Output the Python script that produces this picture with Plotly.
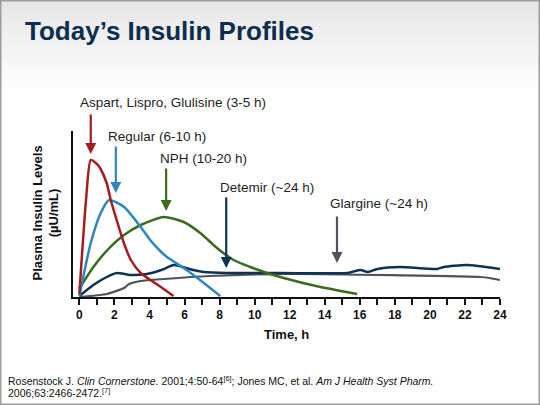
import plotly.graph_objects as go

# ---------------- data ----------------
hours_aspart = [0, 0.38, 0.65, 1.0, 1.18, 1.56, 1.79, 2.56, 2.94, 3.5, 4.65, 5.37]
aspart = [3, 97, 137, 133, 129, 114, 97, 53, 37, 24, 10, 1]

hours_regular = [0, 0.65, 1.22, 1.7, 2.55, 3.5, 4.04, 4.61, 5.0, 6.2, 7.1, 8.04]
regular = [1, 54, 84, 97, 90, 70, 57, 46, 40, 26, 14, 1]

hours_nph = [0, 0.8, 1.6, 2.55, 3.5, 4.8, 5.95, 6.9, 7.85, 8.8, 9.75, 10.7, 11.66, 13.5, 15.85]
nph = [8.5, 30, 47, 62, 72, 80, 75, 64, 49, 37, 30, 24, 19, 11, 3]

hours_detemir = [0, 0.8, 1.56, 2.14, 2.9, 3.85, 4.84, 5.37, 6.5, 7.1, 8.42, 11.5, 15.28,
                 16.04, 16.46, 17.0, 18.3, 20.4, 20.8, 22.1, 24]
detemir = [1, 12, 20, 24, 22, 23, 28, 32, 27, 25, 24, 24, 24, 27, 25, 28, 30, 28, 30, 32, 28]

hours_glargine = [0, 1.56, 2.55, 2.84, 3.5, 4.84, 7.47, 12, 22.9, 23.4, 24]
glargine = [0, 3, 9, 13, 16, 18, 21, 23, 20, 19, 17]

label_texts = ["Aspart, Lispro, Glulisine (3-5 h)", "Regular (6-10 h)",
               "NPH (10-20 h)", "Detemir (~24 h)", "Glargine (~24 h)"]
label_x = [-0.06, 1.53, 4.5, 7.9, 14.2]
label_y = [194, 161, 139, 110, 94]

arrow_x = [0.65, 2.08, 4.95, 8.38, 14.7]
arrow_tip = [143, 104, 86, 29, 34]
arrow_tail = [184, 152, 130, 101, 82]

x_ticks = list(range(0, 25))
x_ticktext = [str(h) if h % 2 == 0 else "" for h in x_ticks]

title_text = "Today\u2019s Insulin Profiles"
y_title = "Plasma Insulin Levels<br>(\u00b5U/mL)"
x_title = "Time, h"
ref_line1 = ("Rosenstock J. <i>Clin Cornerstone.</i> 2001;4:50-64<sup>[6]</sup>; "
             "Jones MC, et al. <i>Am J Health Syst Pharm.</i>")
ref_line2 = "2006;63:2466-2472.<sup>[7]</sup>"

# ---------------- styling ----------------
W, H = 540, 405
ML, MR, MT, MB = 73, 40, 131, 108
PW, PH = W - ML - MR, H - MT - MB
YMAX = 166
XMIN, XMAX = -0.363, 24.0

RED, BLUE, GREEN, NAVY, GRAY = "#a31d1f", "#2b86c2", "#3b6b1d", "#0f3253", "#4d545b"
colors = [RED, BLUE, GREEN, NAVY, GRAY]
FONT = "Liberation Sans, Arial, sans-serif"


def px_x(p):
    return (p - ML) / PW


def px_y(p):
    return (H - MB - p) / PH


fig = go.Figure()

series = [
    (hours_glargine, glargine, GRAY, 2.2),
    (hours_detemir, detemir, NAVY, 2.5),
    (hours_nph, nph, GREEN, 2.5),
    (hours_regular, regular, BLUE, 2.5),
    (hours_aspart, aspart, RED, 2.5),
]
for xs, ys, c, w in series:
    fig.add_trace(go.Scatter(x=xs, y=ys, mode="lines",
                             line=dict(color=c, width=w, shape="spline", smoothing=0.6),
                             showlegend=False, hoverinfo="skip"))

annotations = []
for t, lx, ly in zip(label_texts, label_x, label_y):
    annotations.append(dict(text=t, x=lx, y=ly / YMAX, xref="x", yref="paper",
                            xanchor="left", yanchor="middle", showarrow=False,
                            font=dict(family=FONT, size=13.5, color="#1e1e1e")))
for ax_, tip, tail, c in zip(arrow_x, arrow_tip, arrow_tail, colors):
    annotations.append(dict(text="", x=ax_, y=tip / YMAX, xref="x", yref="paper",
                            showarrow=True, arrowhead=2, arrowsize=1, arrowwidth=2.2,
                            arrowcolor=c, ax=0, ay=-(tail - tip) * PH / YMAX,
                            axref="pixel", ayref="pixel"))

annotations += [
    dict(text="<b>" + title_text + "</b>", x=px_x(23), y=px_y(31), xref="paper", yref="paper",
         xanchor="left", yanchor="middle", showarrow=False,
         font=dict(family=FONT, size=26, color="#0c2e4e")),
    dict(text="<b>" + y_title + "</b>", x=px_x(45.5), y=px_y(213), xref="paper", yref="paper",
         xanchor="center", yanchor="middle", showarrow=False, textangle=-90,
         font=dict(family=FONT, size=13, color="#111111")),
    dict(text="<b>" + x_title + "</b>", x=0.5, y=px_y(334), xref="paper", yref="paper",
         xanchor="center", yanchor="middle", showarrow=False,
         font=dict(family=FONT, size=13, color="#111111")),
    dict(text=ref_line1, x=px_x(6), y=px_y(380), xref="paper", yref="paper",
         xanchor="left", yanchor="middle", showarrow=False,
         font=dict(family=FONT, size=10.5, color="#111111")),
    dict(text=ref_line2, x=px_x(6), y=px_y(392), xref="paper", yref="paper",
         xanchor="left", yanchor="middle", showarrow=False,
         font=dict(family=FONT, size=10.5, color="#111111")),
]

# header gradient + border
shapes = []
n_bands = 22
band_h = 4
for i in range(n_bands):
    f = i / (n_bands - 1)
    v = int(round(230 + (253 - 230) * f))
    shapes.append(dict(type="rect", xref="paper", yref="paper", layer="below",
                       x0=px_x(0), x1=px_x(W), y0=px_y(i * band_h + band_h + 0.5), y1=px_y(i * band_h),
                       line=dict(width=0), fillcolor=f"rgb({v},{v},{v})"))
shapes.append(dict(type="rect", xref="paper", yref="paper", layer="above",
                   x0=px_x(0.5), x1=px_x(W - 0.5), y0=px_y(H - 0.5), y1=px_y(0.5),
                   line=dict(color="#9c9c9c", width=2), fillcolor="rgba(0,0,0,0)"))

fig.update_layout(
    width=W, height=H,
    margin=dict(l=ML, r=MR, t=MT, b=MB, pad=0),
    paper_bgcolor="white", plot_bgcolor="rgba(0,0,0,0)",
    annotations=annotations, shapes=shapes,
    font=dict(family=FONT),
    xaxis=dict(range=[XMIN, XMAX], showgrid=False, zeroline=False,
               showline=True, linecolor="#111111", linewidth=2,
               ticks="outside", ticklen=6, tickwidth=1.5, tickcolor="#111111",
               tickvals=x_ticks, ticktext=x_ticktext,
               tickfont=dict(family=FONT, size=12, color="#111111", weight="bold")),
    yaxis=dict(range=[0, YMAX], showgrid=False, zeroline=False,
               showline=True, linecolor="#111111", linewidth=2,
               ticks="", showticklabels=False),
)

fig.write_html("out.html", config={"displayModeBar": False},
               post_script="document.body.style.margin='0';document.body.style.overflow='hidden';")
